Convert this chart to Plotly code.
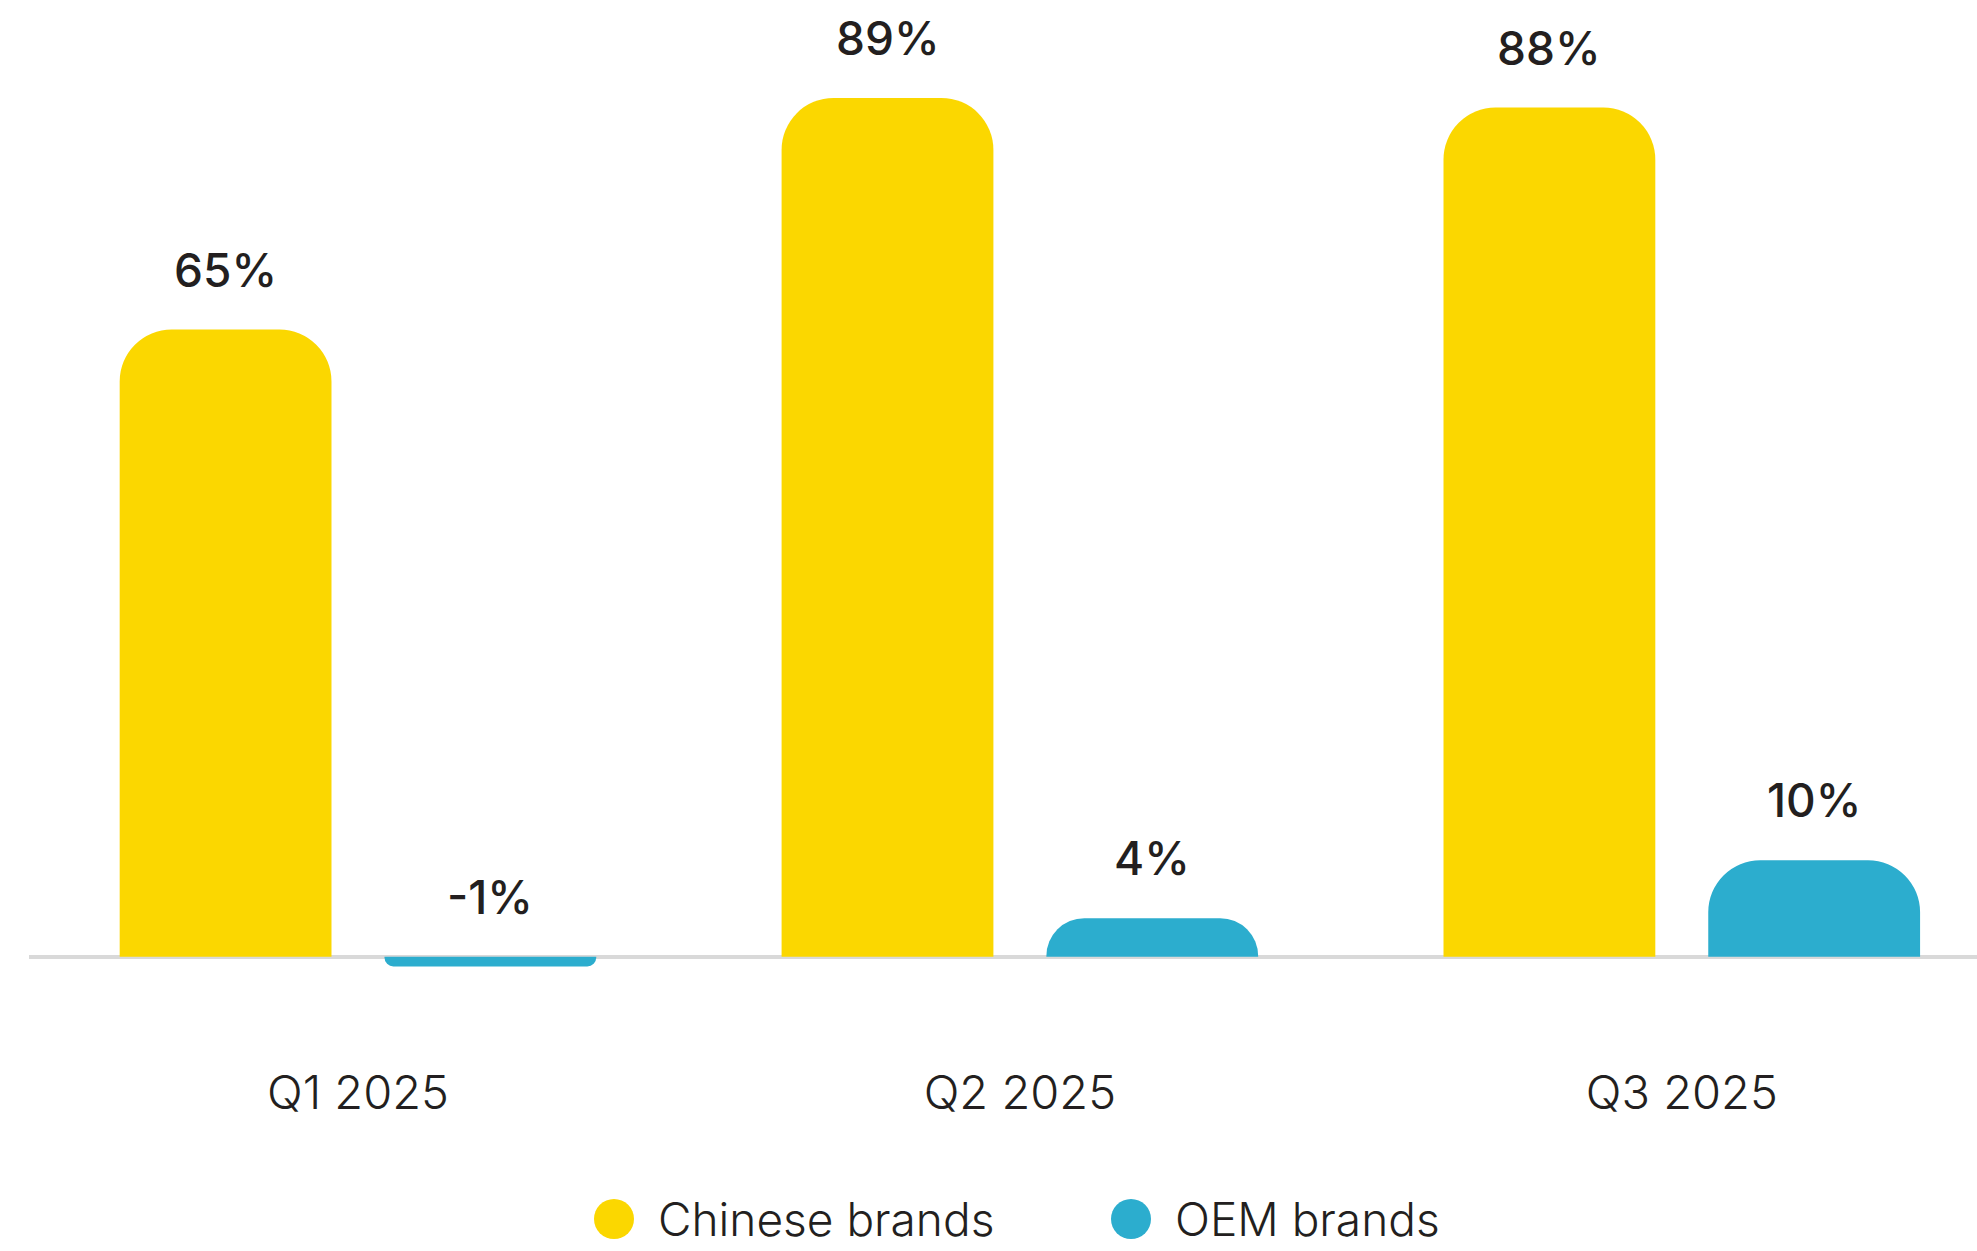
import plotly.graph_objects as go

categories = ["Q1 2025", "Q2 2025", "Q3 2025"]
series_names = ["Chinese brands", "OEM brands"]
chinese_values = [65, 89, 88]
oem_values = [-1, 4, 10]
colors = ["#FBD700", "#2CADCE"]
text_color = "#231F20"
FONT = "Inter, 'Open Sans', sans-serif"

W, H = 1977, 1251
ML, MR, MT, MB = 29, 0, 40, 246
Y_RANGE = [-5, 95]
X_RANGE = [-0.497, 2.446]

fig = go.Figure()
series = [chinese_values, oem_values]
for name, vals, col in zip(series_names, series, colors):
    fig.add_trace(go.Bar(
        x=categories, y=vals, name=name, marker=dict(color=col, cornerradius=52, line=dict(width=0)),
        showlegend=False, offsetgroup=name,
    ))

# value labels
offsets = [-0.2, 0.2]
for si, vals in enumerate(series):
    for ci, v in enumerate(vals):
        fig.add_annotation(
            x=ci + offsets[si], y=max(v, 0), xref="x", yref="y",
            text=f"{v}%", showarrow=False, yanchor="middle", yshift=60,
            font=dict(family=FONT, size=46, color=text_color, weight=500),
        )

# custom legend (large circle markers)
plot_w = W - ML - MR
plot_h = H - MT - MB
legend_py = 1219
legend_marker_px = [614, 1131]
r = 20
for name, col, mx in zip(series_names, colors, legend_marker_px):
    xc = (mx - ML) / plot_w
    yc = (H - MB - legend_py) / plot_h
    rx = r / plot_w
    ry = r / plot_h
    fig.add_shape(type="circle", xref="paper", yref="paper",
                  x0=xc - rx, x1=xc + rx, y0=yc - ry, y1=yc + ry,
                  fillcolor=col, line=dict(width=0))
    fig.add_annotation(x=(mx + 42 - ML) / plot_w, y=yc, xref="paper", yref="paper",
                       text=name, showarrow=False, xanchor="left", yanchor="middle",
                       font=dict(family=FONT, size=46, color=text_color, weight=300))

fig.update_layout(
    width=W, height=H,
    margin=dict(l=ML, r=MR, t=MT, b=MB, pad=0),
    paper_bgcolor="white", plot_bgcolor="white",
    barmode="group", bargap=0.2, bargroupgap=0.2,
    showlegend=False,
    font=dict(family=FONT, color=text_color),
)
fig.update_xaxes(
    range=X_RANGE, showgrid=False, showline=False, zeroline=False,
    ticks="", ticklabelstandoff=56,
    tickfont=dict(family=FONT, size=47, color=text_color, weight=300),
)
fig.update_yaxes(
    range=Y_RANGE, showgrid=False, showticklabels=False, showline=False,
    zeroline=True, zerolinecolor="#D9D9D9", zerolinewidth=4, layer="above traces",
)

fig.write_html("out.html")
